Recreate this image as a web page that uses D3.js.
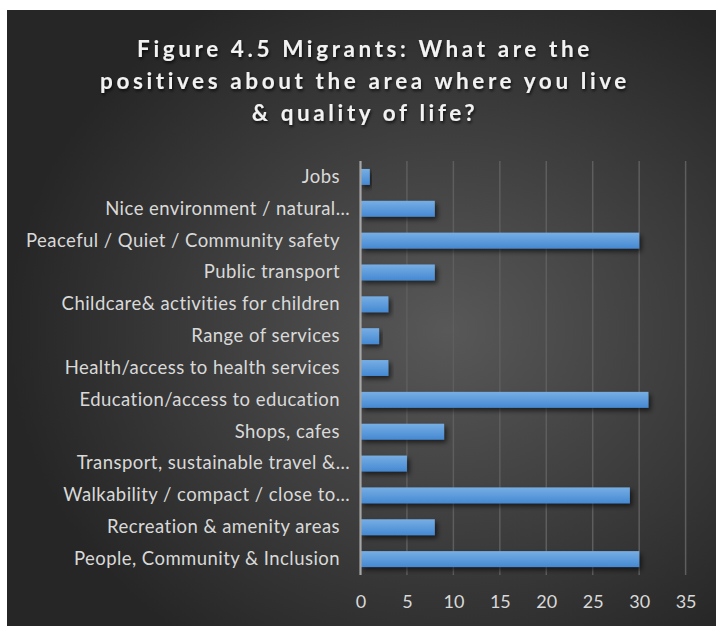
<!DOCTYPE html>
<html>
<head>
<meta charset="utf-8">
<script src="https://cdn.jsdelivr.net/npm/d3@7"></script>
<style>
  html, body { margin: 0; padding: 0; background: #ffffff; }
  svg { display: block; }
</style>
</head>
<body>
<svg id="chart" width="717" height="626"></svg>
<script>
// Survey responses: positives about the area (count of mentions)
const categories = [
  "Jobs",
  "Nice environment / natural…",
  "Peaceful / Quiet / Community safety",
  "Public transport",
  "Childcare& activities for children",
  "Range of services",
  "Health/access to health services",
  "Education/access to education",
  "Shops, cafes",
  "Transport, sustainable travel &…",
  "Walkability / compact / close to…",
  "Recreation & amenity areas",
  "People, Community & Inclusion"
];
const values = [1, 8, 30, 8, 3, 2, 3, 31, 9, 5, 29, 8, 30];
const xTicks = [0, 5, 10, 15, 20, 25, 30, 35];
const titleLines = [
  "Figure 4.5 Migrants: What are the",
  "positives about the area where you live",
  "& quality of life?"
];

const svg = d3.select("#chart");
const defs = svg.append("defs");

// Dark radial backdrop
const bg = defs.append("radialGradient").attr("id", "bgGrad")
  .attr("cx", "62%").attr("cy", "52%").attr("r", "62%");
bg.append("stop").attr("offset", "0%").attr("stop-color", "#585858");
bg.append("stop").attr("offset", "100%").attr("stop-color", "#262626");

// Bar fill: light top fading to deeper blue
const barGrad = defs.append("linearGradient").attr("id", "barGrad")
  .attr("x1", 0).attr("y1", 0).attr("x2", 0).attr("y2", 1);
barGrad.append("stop").attr("offset", "0%").attr("stop-color", "#77aee4");
barGrad.append("stop").attr("offset", "100%").attr("stop-color", "#4589d2");

const shadow = defs.append("filter").attr("id", "barShadow")
  .attr("x", "-10%").attr("y", "-40%").attr("width", "130%").attr("height", "200%");
shadow.append("feDropShadow").attr("dx", 2.5).attr("dy", 3).attr("stdDeviation", 2.5)
  .attr("flood-color", "#000").attr("flood-opacity", 0.6);

const tShadow = defs.append("filter").attr("id", "textShadow")
  .attr("x", "-5%").attr("y", "-30%").attr("width", "110%").attr("height", "160%");
tShadow.append("feDropShadow").attr("dx", 1).attr("dy", 2).attr("stdDeviation", 1.5)
  .attr("flood-color", "#000").attr("flood-opacity", 0.75);

svg.append("rect")
  .attr("x", 7).attr("y", 10).attr("width", 709).attr("height", 616)
  .attr("fill", "url(#bgGrad)");

// Title
const title = svg.append("g")
  .attr("font-family", "Lato, 'Open Sans', sans-serif")
  .attr("font-weight", 700)
  .attr("font-size", 22.5)
  .attr("fill", "#f2f2f2")
  .attr("text-anchor", "middle")
  .attr("filter", "url(#textShadow)");
titleLines.forEach((t, i) => {
  title.append("text")
    .attr("x", 365)
    .attr("y", 57 + i * 32)
    .attr("letter-spacing", "3.6px")
    .text(t);
});

// Scales
const x = d3.scaleLinear().domain([0, 35]).range([360.5, 685.6]);
const y = d3.scaleBand().domain(categories).range([161, 575])
  .paddingInner(0.5).paddingOuter(0.25);

const plotTop = 161, plotBottom = 575;

// Vertical gridlines
svg.append("g")
  .selectAll("line")
  .data(xTicks.filter(d => d > 0))
  .join("line")
  .attr("x1", d => x(d)).attr("x2", d => x(d))
  .attr("y1", plotTop).attr("y2", plotBottom)
  .attr("stroke", "#5e5e5e").attr("stroke-width", 1.5);

// Bars
svg.append("g")
  .selectAll("rect")
  .data(values)
  .join("rect")
  .attr("x", x(0))
  .attr("y", (d, i) => y(categories[i]))
  .attr("width", d => x(d) - x(0))
  .attr("height", y.bandwidth())
  .attr("fill", "url(#barGrad)")
  .attr("filter", "url(#barShadow)");

// Zero axis line
svg.append("line")
  .attr("x1", x(0)).attr("x2", x(0))
  .attr("y1", plotTop).attr("y2", plotBottom)
  .attr("stroke", "#a6a6a6").attr("stroke-width", 2.2);

// Category labels
const yAxis = d3.axisLeft(y).tickSize(0).tickPadding(0);
const yg = svg.append("g")
  .attr("transform", "translate(340,0)")
  .call(yAxis);
yg.select(".domain").remove();
yg.selectAll("text")
  .attr("font-family", "Lato, 'Open Sans', sans-serif")
  .attr("font-size", 18.5)
  .attr("letter-spacing", "0.45px")
  .attr("fill", "#d9d9d9")
  .attr("dx", d => d.endsWith("…") ? 10 : 0);

// Value axis labels
const xAxis = d3.axisBottom(x).tickValues(xTicks).tickSize(0).tickPadding(0);
const xg = svg.append("g")
  .attr("transform", "translate(0,595)")
  .call(xAxis);
xg.select(".domain").remove();
xg.selectAll("text")
  .attr("font-family", "Lato, 'Open Sans', sans-serif")
  .attr("font-size", 18)
  .attr("fill", "#d9d9d9")
  .attr("dy", "0.71em")
  .attr("y", 0);
</script>
</body>
</html>
